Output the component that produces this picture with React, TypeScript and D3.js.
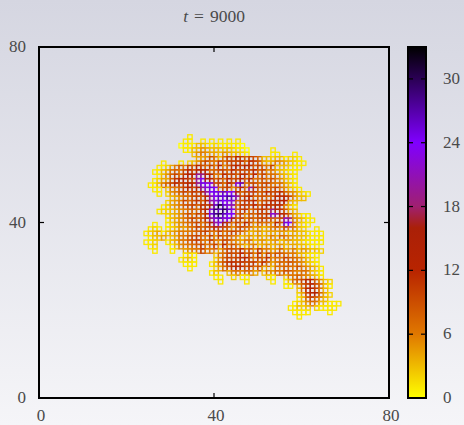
import React, { useEffect, useRef } from 'react';
import * as d3 from 'd3';

const W = 464;
const H = 425;

const axisTicks = [0, 40, 80];
const barTicks = [0, 6, 12, 18, 24, 30];
const paletteStops = [0, 6, 12, 16, 18, 24, 33];
const paletteColors = ['#ffff00', '#e07800', '#b82400', '#aa2008', '#a02070', '#8000ff', '#000000'];

// site counts, one string per lattice row: base 36 digit, '.' is an empty site
const firstCol = 24;
const topRow = 59;
const siteRows = [
  '..........1',
  '.........11..1.1.1.1.1',
  '........011133212111110',
  '.........113354333232110.....1',
  '...........3565443543321.....11...1',
  '............4459637a8ca8a97332331221',
  '....1...1.2358a66b69a9b7ca84346543211',
  '...1124686a8c97a6c58bcaeb8a76a333211',
  '..1134786ac9cdc689a7c8a99c7a5643211',
  '...1358a7bdckjce66c9a8cb7c6a6764321',
  '..12448bdca9kofc8a7c9ac8e6796965321',
  '.11368ac9bdcjpoo9a7c9oq68a79a667431',
  '..11.3668ac9dkmpo79a58c7kb8978a65321',
  '...1.2568a7b9cjoppqooc7a9a79c9ac865321',
  '......345779a8ckoqpsqk9bc78978cbda533',
  '.....2456a79b8ckmqonm79bac69acbdc43',
  '....1245689a7cafqwqmk6ba9c8bcadb531',
  '...1223456787bentquqn7ab69ab9jcb843',
  '.....2345796a8cpsuqoo7a597a9bnkcb84311',
  '.....134568a79cjnqmne7a6979a9879mj54311',
  '..1..1245678a69dkmfa6a7c858675c8po6321',
  '.121.1235467a799ca9858a764534675a6632..1',
  '12341345666789a76a68a87534534445434332111',
  '.1334.346689a76a5a786534535346476543321 11',
  '112..1346689a76a65a8654663453452443321111',
  '.12...1356678a67a5c69653563453453.433211',
  '..1...1..4566a66.47a98c795b664584563543 32',
  '.........121....367a99c8a6b5a69876643211',
  '........1231....258a9abc96a7b576a8765321',
  '.........111...1369bcab9ab6c7468697 65321',
  '..........1.....2479bcb9a794.376876965431',
  '...............13..3665764.36576986576321',
  '................11..2.11....21..366865431',
  '.................1.....1.....1..1378adc8532',
  '................................11.48ad9731',
  '...................................37cda63',
  '...................................24ace742',
  '...................................138a753',
  '..................................12357633111',
  '.................................11323.21111',
  '..................................1111....1',
  '...................................1',
].map(s => s.replace(/ /g, ''));

const sites: { col: number; row: number; value: number }[] = [];
siteRows.forEach((text, i) => {
  text.split('').forEach((ch, j) => {
    if (ch !== '.') sites.push({ col: firstCol + j, row: topRow - i, value: parseInt(ch, 36) });
  });
});

const tickFont = '"Liberation Serif", serif';
const textColor = '#4a4a4a';

export default function App() {
  const ref = useRef<SVGSVGElement | null>(null);

  useEffect(() => {
    const svg = d3.select(ref.current);
    svg.selectAll('*').remove();

    const x = d3.scaleLinear().domain([0, 80]).range([39, 389]);
    const y = d3.scaleLinear().domain([0, 80]).range([398, 47]);
    const barY = d3.scaleLinear().domain([0, 33]).range([398, 47]);
    const color = d3.scaleLinear<string>().domain(paletteStops).range(paletteColors).clamp(true);

    const defs = svg.append('defs');
    const page = defs.append('linearGradient').attr('id', 'page').attr('x1', 0).attr('y1', 0).attr('x2', 0).attr('y2', 1);
    page.append('stop').attr('offset', 0).attr('stop-color', '#d5d6e1');
    page.append('stop').attr('offset', 1).attr('stop-color', '#f5f5f8');

    const bar = defs.append('linearGradient').attr('id', 'bar').attr('x1', 0).attr('y1', 1).attr('x2', 0).attr('y2', 0);
    paletteStops.forEach((s, i) => {
      bar.append('stop').attr('offset', s / 33).attr('stop-color', paletteColors[i]);
    });

    svg.append('rect').attr('width', W).attr('height', H).attr('fill', 'url(#page)');

    // lattice sites, open squares
    svg.append('g')
      .selectAll('rect')
      .data(sites)
      .join('rect')
      .attr('x', d => x(d.col))
      .attr('y', d => y(d.row + 1))
      .attr('width', x(1) - x(0))
      .attr('height', y(0) - y(1))
      .attr('fill', 'none')
      .attr('stroke', d => color(d.value))
      .attr('stroke-width', 1.35);

    // frame and ticks
    const frame = svg.append('g').attr('stroke', '#000').attr('fill', 'none');
    frame.append('rect')
      .attr('x', x(0)).attr('y', y(80))
      .attr('width', x(80) - x(0)).attr('height', y(0) - y(80))
      .attr('stroke-width', 2);
    axisTicks.slice(1, 2).forEach(t => {
      const tick = frame.append('g').attr('stroke-width', 1.2);
      tick.append('line').attr('x1', x(t)).attr('x2', x(t)).attr('y1', y(0)).attr('y2', y(0) - 5);
      tick.append('line').attr('x1', x(t)).attr('x2', x(t)).attr('y1', y(80)).attr('y2', y(80) + 5);
      tick.append('line').attr('x1', x(0)).attr('x2', x(0) + 5).attr('y1', y(t)).attr('y2', y(t));
      tick.append('line').attr('x1', x(80)).attr('x2', x(80) - 5).attr('y1', y(t)).attr('y2', y(t));
    });

    const labels = svg.append('g')
      .attr('font-family', tickFont)
      .attr('font-size', 17)
      .attr('fill', textColor);

    axisTicks.forEach(t => {
      labels.append('text')
        .attr('x', x(t) + 2).attr('y', 421)
        .attr('text-anchor', 'middle')
        .text(t);
      labels.append('text')
        .attr('x', 26).attr('y', y(t) + 5)
        .attr('text-anchor', 'end')
        .text(t);
    });

    // title
    const title = labels.append('text').attr('x', 214).attr('y', 22).attr('text-anchor', 'middle').attr('font-size', 17.5);
    title.append('tspan').attr('font-style', 'italic').text('t');
    title.append('tspan').attr('dx', 6).text('=');
    title.append('tspan').attr('dx', 6).text('9000');

    // colour bar
    svg.append('rect')
      .attr('x', 408).attr('y', barY(33))
      .attr('width', 18).attr('height', barY(0) - barY(33))
      .attr('fill', 'url(#bar)')
      .attr('stroke', '#000')
      .attr('stroke-width', 2);
    const dashes = svg.append('g').attr('stroke', '#000').attr('stroke-width', 1.2);
    barTicks.forEach(t => {
      dashes.append('line').attr('x1', 408).attr('x2', 413).attr('y1', barY(t)).attr('y2', barY(t));
      dashes.append('line').attr('x1', 421).attr('x2', 426).attr('y1', barY(t)).attr('y2', barY(t));
      labels.append('text')
        .attr('x', 443).attr('y', barY(t) + 5)
        .text(t);
    });
  }, []);

  return (
    <svg
      ref={ref}
      width={W}
      height={H}
      style={{ position: 'absolute', left: 0, top: 0, display: 'block' }}
    />
  );
}
